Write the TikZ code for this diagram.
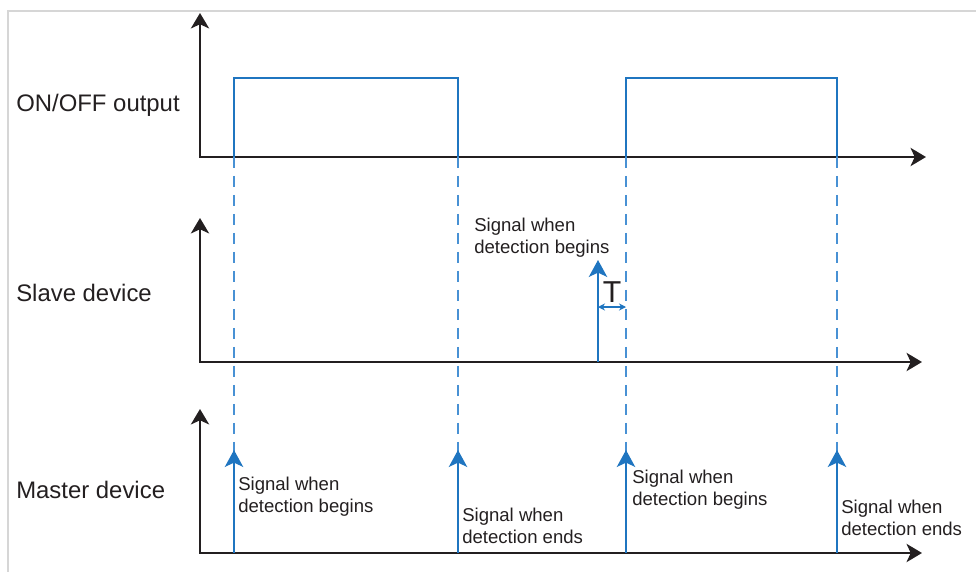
\documentclass[tikz,border=0pt]{standalone}
\usepackage{fontspec}
\setmainfont{Liberation Sans}
\usetikzlibrary{positioning,arrows.meta}

\definecolor{sigblue}{RGB}{31,117,192}
\definecolor{dashblue}{RGB}{72,145,212}
\definecolor{inkgray}{RGB}{35,31,32}
\definecolor{framegray}{RGB}{214,214,214}

\begin{document}
\begin{tikzpicture}[
    x=0.025cm, y=-0.025cm,
    axis/.style={draw=inkgray, line width=1.5pt, line join=miter,
      {Stealth[length=11pt,width=13pt,inset=3pt]}-{Stealth[length=11pt,width=13pt,inset=3pt]}},
    pulse/.style={draw=sigblue, line width=1.1pt},
    guide/.style={draw=dashblue, line width=1pt, dash pattern=on 8pt off 5.5pt},
    signal/.style={draw=sigblue, line width=1.5pt, -{Stealth[length=12pt,width=13pt,inset=3pt]}},
    gap/.style={draw=sigblue, line width=0.9pt, {Stealth[length=5pt,width=5pt]}-{Stealth[length=5pt,width=5pt]}},
    rowlabel/.style={text=inkgray, font=\fontsize{17}{20}\selectfont, anchor=base west, inner sep=0pt},
    siglabel/.style={text=inkgray, font=\fontsize{13.2}{15.2}\selectfont, align=left, anchor=base west, inner sep=0pt}
]
\useasboundingbox (0,0) rectangle (976,572);

% Frame
\draw[framegray, line width=1.4pt] (8,572) -- (8,11) -- (976,11);

% Axes: output, slave, master
\foreach \n/\y/\xe in {A/157/926, B/362/922, C/553/922} {
  \coordinate (\n0) at (200,\y);
  \coordinate (\n y) at (200,\y-144);
  \coordinate (\n x) at (\xe,\y);
  \draw[axis] (\n y) -- (\n0) -- (\n x);
}

% Row labels
\node[rowlabel] (lblout) at (16,111) {ON/OFF output};
\node[rowlabel] (lblslave) at (16,301) {Slave device};
\node[rowlabel] (lblmaster) at (16,498) {Master device};

% Edge positions
\foreach \i/\x in {1/234, 2/458, 3/626, 4/837} {
  \coordinate (E\i) at (\x,157);
  \coordinate (H\i) at (\x,78);
  \coordinate (M\i) at (\x,553);
  \coordinate (S\i) at (\x,450);
}

% ON/OFF pulses
\draw[pulse] (E1) -- (H1) -- (H2) -- (E2);
\draw[pulse] (E3) -- (H3) -- (H4) -- (E4);

% Dashed guides
\foreach \i in {1,2,3,4}
  \draw[guide] (E\i) -- (M\i);

% Master signals
\foreach \i in {1,2,3,4}
  \draw[signal] (M\i) -- (S\i);

% Slave signal and delay T
\coordinate (B1) at (598,362);
\coordinate (B2) at (598,260);
\draw[signal] (B1) -- (B2);
\coordinate (T1) at (598,307);
\coordinate (T2) at (626,307);
\draw[gap] (T1) -- (T2);
\node[text=inkgray, font=\fontsize{21.5}{22}\selectfont, anchor=base, inner sep=0pt] (lblT) at (612,302) {T};

% Signal labels (base = last line)
\node[siglabel] (sigslave) at (474,253) {Signal when\\detection begins};
\node[siglabel] (sig1) at (238,512) {Signal when\\detection begins};
\node[siglabel] (sig2) at (462,543) {Signal when\\detection ends};
\node[siglabel] (sig3) at (632,505) {Signal when\\detection begins};
\node[siglabel] (sig4) at (841,535) {Signal when\\detection ends};

\end{tikzpicture}
\end{document}
